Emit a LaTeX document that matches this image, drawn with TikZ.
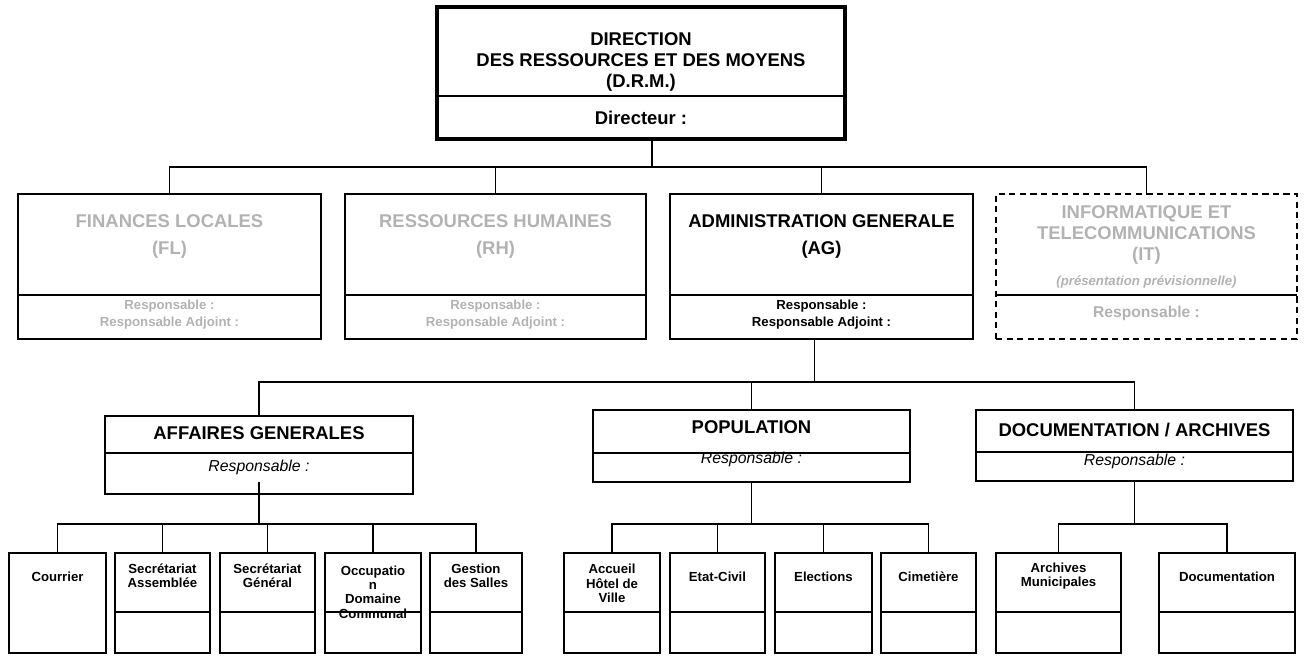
\documentclass[tikz,border=0pt]{standalone}
\usepackage{fontspec}
\setmainfont{Liberation Sans}
\usetikzlibrary{calc}

\begin{document}
\begin{tikzpicture}[
  boite/.style={draw, line width=1pt, anchor=north west, inner sep=0pt, outer sep=0pt},
  pointille/.style={dash pattern=on 3.5pt off 2.5pt},
  trait/.style={line width=1pt},
  titre/.style={font=\bfseries\fontsize{10.5}{12}\selectfont, align=center, inner sep=0pt},
  resp/.style={font=\bfseries\fontsize{7.5}{9.6}\selectfont, align=center, inner sep=0pt},
  respit/.style={font=\itshape\fontsize{9}{11}\selectfont, inner sep=0pt},
  feuille/.style={font=\bfseries\fontsize{7.5}{8.2}\selectfont, align=center, inner sep=0pt},
  gris/.style={text=black!30}
]
\useasboundingbox (0,0) rectangle (26.16,-13.10);

% Direction
\node[boite, line width=2.4pt, minimum width=8.16cm, minimum height=2.64cm] (drm) at (8.74,-0.14) {};
\draw[trait] ($(drm.north west)+(0,-1.78)$) -- ($(drm.north east)+(0,-1.78)$);
\node[titre, font=\bfseries\fontsize{10.5}{11.9}\selectfont] (drm-t) at (12.82,-1.24) {DIRECTION\\DES RESSOURCES ET DES MOYENS\\(D.R.M.)};
\node[titre] (drm-d) at (12.82,-2.36) {Directeur :};

% Services
\node[boite, minimum width=6.06cm, minimum height=2.90cm] (fl) at (0.36,-3.88) {};
\node[boite, minimum width=6.02cm, minimum height=2.90cm] (rh) at (6.90,-3.88) {};
\node[boite, minimum width=6.06cm, minimum height=2.90cm] (ag) at (13.40,-3.88) {};
\node[boite, pointille, minimum width=6.02cm, minimum height=2.90cm] (it) at (19.92,-3.88) {};
\foreach \n in {fl,rh,ag,it}
  \draw[trait] ($(\n.north west)+(0,-2.02)$) -- ($(\n.north east)+(0,-2.02)$);

\node[titre, gris] (fl-t) at (3.39,-4.73) {FINANCES LOCALES\\[3.4pt](FL)};
\node[resp, gris] (fl-r) at (3.39,-6.29) {Responsable :\\Responsable Adjoint :};
\node[titre, gris] (rh-t) at (9.91,-4.73) {RESSOURCES HUMAINES\\[3.4pt](RH)};
\node[resp, gris] (rh-r) at (9.91,-6.29) {Responsable :\\Responsable Adjoint :};
\node[titre] (ag-t) at (16.43,-4.73) {ADMINISTRATION GENERALE\\[3.4pt](AG)};
\node[resp] (ag-r) at (16.43,-6.29) {Responsable :\\Responsable Adjoint :};
\node[titre, gris] (it-t) at (22.93,-4.70) {INFORMATIQUE ET\\TELECOMMUNICATIONS\\(IT)};
\node[resp, gris, font=\bfseries\itshape\fontsize{7.5}{9}\selectfont] (it-p) at (22.93,-5.64) {(présentation prévisionnelle)};
\node[resp, gris, font=\bfseries\fontsize{8.9}{10}\selectfont] (it-r) at (22.93,-6.26) {Responsable :};

% Administration generale
\node[boite, minimum width=6.16cm, minimum height=1.56cm] (aff) at (2.10,-8.32) {};
\node[boite, minimum width=6.34cm, minimum height=1.44cm] (pop) at (11.86,-8.20) {};
\node[boite, minimum width=6.34cm, minimum height=1.42cm] (docarch) at (19.52,-8.20) {};
\draw[trait] ($(aff.north west)+(0,-0.74)$) -- ($(aff.north east)+(0,-0.74)$);
\draw[trait] ($(pop.north west)+(0,-0.86)$) -- ($(pop.north east)+(0,-0.86)$);
\draw[trait] ($(docarch.north west)+(0,-0.84)$) -- ($(docarch.north east)+(0,-0.84)$);

\node[titre] (aff-t) at (5.18,-8.66) {AFFAIRES GENERALES};
\node[respit] (aff-r) at (5.18,-9.34) {Responsable :};
\node[titre] (pop-t) at (15.03,-8.54) {POPULATION};
\node[respit] (pop-r) at (15.03,-9.18) {Responsable :};
\node[titre] (docarch-t) at (22.69,-8.60) {DOCUMENTATION / ARCHIVES};
\node[respit] (docarch-r) at (22.69,-9.22) {Responsable :};

% Bureaux
\foreach \n/\x/\w/\ty/\txt in {
  cou/0.18/1.94/-11.54/Courrier,
  sa/2.30/1.90/-11.52/{Secrétariat\\Assemblée},
  sg/4.40/1.90/-11.52/{Secrétariat\\Général},
  occ/6.50/1.92/-11.84/{Occupatio\\n\\Domaine\\Communal},
  ges/8.60/1.84/-11.52/{Gestion\\des Salles},
  acc/11.28/1.92/-11.67/{Accueil\\Hôtel de\\Ville},
  ec/13.40/1.90/-11.54/Etat-Civil,
  ele/15.50/1.94/-11.54/Elections,
  cim/17.62/1.90/-11.54/Cimetière,
  arc/19.92/2.50/-11.52/{Archives\\Municipales},
  docu/23.18/2.72/-11.54/Documentation}
{
  \node[boite, minimum width=\w cm, minimum height=2.00cm] (\n) at (\x,-11.06) {};
  \node[feuille] (\n-t) at ({\x+\w/2},\ty) {\txt};
}
\foreach \n in {sa,sg,occ,ges,acc,ec,ele,cim,arc,docu}
  \draw[trait] ($(\n.north west)+(0,-1.18)$) -- ($(\n.north east)+(0,-1.18)$);

% Liaisons
\draw[trait] ($(drm.south)+(0.22,0)$) -- ++(0,-0.56) coordinate (b1);
\foreach \n in {fl,rh,ag,it} \draw[trait] (b1) -| (\n.north);
\draw[trait] ($(ag.south)+(-0.14,0)$) -- ++(0,-0.86) coordinate (b2);
\foreach \n in {aff,pop,docarch} \draw[trait] (b2) -| (\n.north);
\draw[trait] ($(aff.south)+(0,0.24)$) -- ++(0,-0.84) coordinate (b3);
\foreach \n in {cou,sa,sg,occ,ges} \draw[trait] (b3) -| (\n.north);
\draw[trait] (pop.south) -- ++(0,-0.84) coordinate (b4);
\foreach \n in {acc,ec,ele,cim} \draw[trait] (b4) -| (\n.north);
\draw[trait] (docarch.south) -- ++(0,-0.86) coordinate (b5);
\foreach \n in {arc,docu} \draw[trait] (b5) -| (\n.north);
\end{tikzpicture}
\end{document}
